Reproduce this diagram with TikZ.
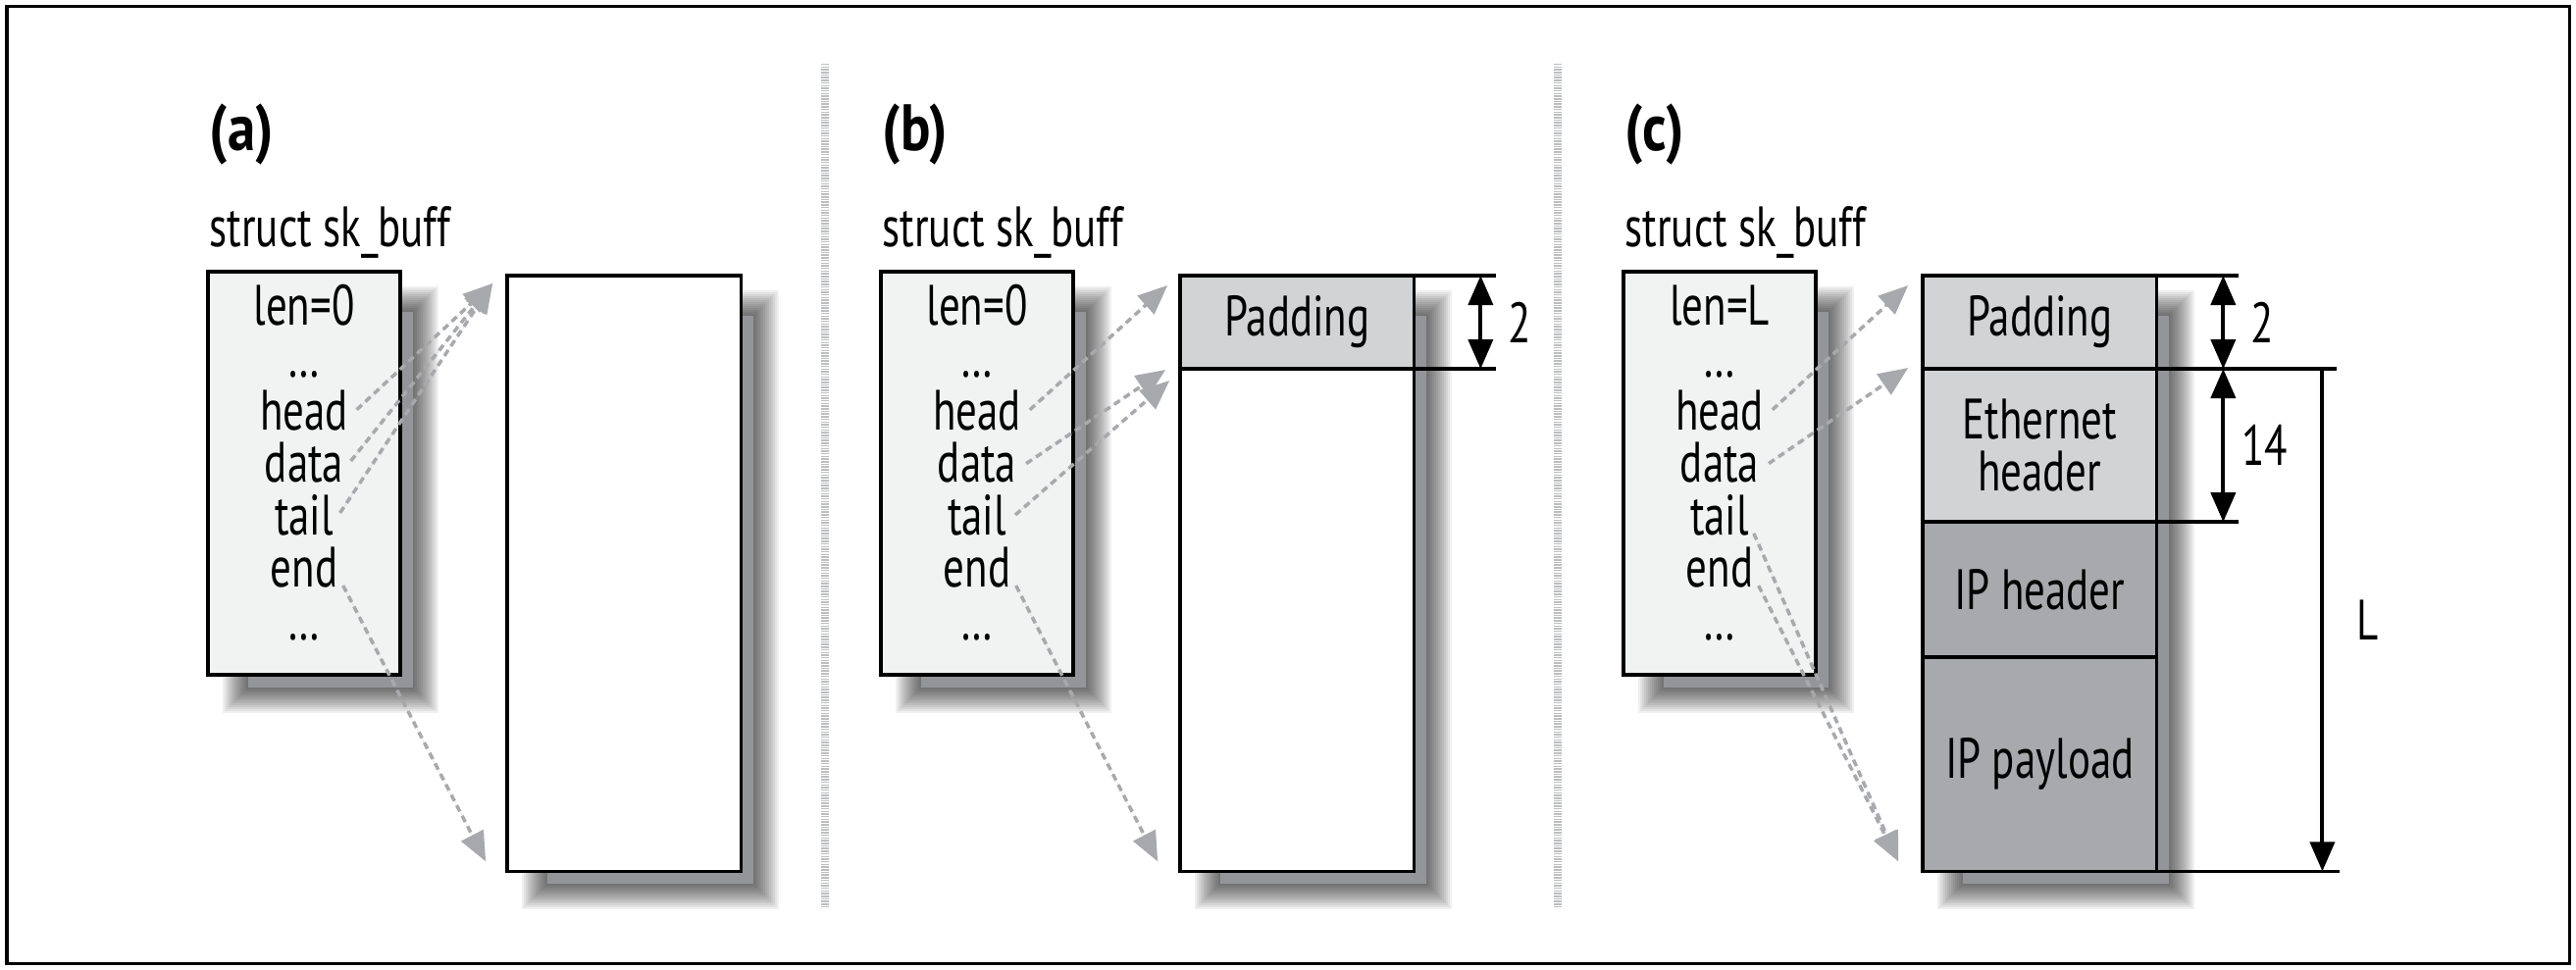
\documentclass[tikz,border=0pt]{standalone}
\usepackage{fontspec}
\setmainfont{PT Sans}[FakeStretch=0.74]
\newfontfamily\titlefamily{PT Sans}[FakeStretch=0.85]
\usetikzlibrary{arrows.meta,positioning,backgrounds}

\definecolor{structfill}{HTML}{F1F2F2}
\definecolor{padfill}{HTML}{D1D3D4}
\definecolor{ipfill}{HTML}{A7A9AC}
\definecolor{shadowcore}{HTML}{939598}
\definecolor{ptrgray}{HTML}{A7A9AC}
\definecolor{sepgray}{HTML}{BCBEC0}

\newcommand{\fieldfont}{\fontsize{16.5pt}{15.2pt}\selectfont}
\newcommand{\titlefont}{\titlefamily\bfseries\fontsize{19pt}{21pt}\selectfont}

% soft shadow under a box, given its north west and south east corners
\newcommand{\dropshadow}[2]{%
  \begin{pgfonlayer}{background}
    \foreach \r in {0,2,...,26}
      \fill[black,opacity=0.06]
        ([xshift=0.41cm-\r*0.01cm,yshift=-0.41cm+\r*0.01cm]#1) rectangle
        ([xshift=0.13cm+\r*0.01cm,yshift=-0.13cm-\r*0.01cm]#2);
    \fill[shadowcore] ([xshift=0.41cm,yshift=-0.41cm]#1) rectangle
                      ([xshift=0.13cm,yshift=-0.13cm]#2);
  \end{pgfonlayer}}

\tikzset{
    %Define standard arrow tip
    >={Triangle[length=0.3cm,width=0.25cm]},
    %Define style for the struct boxes
    structbox/.style={
           rectangle,
           draw=black, line width=0.035cm,
           fill=structfill,
           anchor=north west,
           minimum width=1.96cm,
           minimum height=4.11cm,
           inner sep=0pt, outer sep=0pt},
    % one line of the struct
    field/.style={
           font=\fieldfont,
           inner sep=0pt, outer sep=0pt,
           text height=0.39cm,
           text depth=0.145cm},
    % one part of the data buffer
    cell/.style={
           rectangle,
           draw=black, line width=0.035cm,
           minimum width=2.38cm,
           inner sep=0pt, outer sep=0pt,
           font=\fieldfont,
           align=center},
    title/.style={font=\titlefont, inner sep=0pt, anchor=base west},
    caption/.style={font=\fieldfont, inner sep=0pt, anchor=base west},
    % Define pointer style
    ptr/.style={
           ->,
           draw=ptrgray, fill=ptrgray,
           line width=0.035cm,
           dash pattern=on 0.07cm off 0.05cm,
           shorten <=0.12cm},
    dimline/.style={draw=black, line width=0.035cm},
    dimarr/.style={draw=black, line width=0.04cm},
    dimlabel/.style={font=\fieldfont, inner sep=0pt, anchor=west},
    sepline/.style={draw=sepgray, line width=0.08cm,
           dash pattern=on 0.015cm off 0.012cm}
}

\begin{document}
\begin{tikzpicture}[x=0.01cm,y=-0.01cm]
    \useasboundingbox (0,0) rectangle (2626,989);
    \draw[line width=0.03cm] (7,7) rectangle (2619,983);
    \draw[sepline] (841,65) -- (841,926);
    \draw[sepline] (1588,65) -- (1588,926);

    % (a)
    \node[title] (atitle) at (213,154) {(a)};
    \node[caption] (aname) at (213,252) {struct sk\_buff};
    \node[structbox] (astr) at (212,277) {};
    \node[field] (alen) [below=0.15cm of astr.north] {len=0};
    \node[field] (adot1) [below=0pt of alen] {…};
    \node[field] (ahead) [below=0pt of adot1] {head};
    \node[field] (adata) [below=0pt of ahead] {data};
    \node[field] (atail) [below=0pt of adata] {tail};
    \node[field] (aend) [below=0pt of atail] {end};
    \node[field] (adot2) [below=0pt of aend] {…};
    \node[cell, fill=white, minimum height=6.07cm] (abuf)
          [right=1.09cm of astr.north east, anchor=north west, yshift=-0.04cm] {};
    \dropshadow{astr.north west}{astr.south east}
    \dropshadow{abuf.north west}{abuf.south east}
    \coordinate (atop) at ([xshift=-0.15cm,yshift=-0.08cm]abuf.north west);
    \coordinate (abot) at ([xshift=-0.22cm,yshift=0.10cm]abuf.south west);
    \draw[ptr] (ahead.east) -- (atop);
    \draw[ptr] (adata.east) -- (atop);
    \draw[ptr] (atail.east) -- (atop);
    \draw[ptr] (aend.east) -- (abot);

    % (b)
    \node[title] (btitle) at (899,154) {(b)};
    \node[caption] (bname) at (899,252) {struct sk\_buff};
    \node[structbox] (bstr) at (898,277) {};
    \node[field] (blen) [below=0.15cm of bstr.north] {len=0};
    \node[field] (bdot1) [below=0pt of blen] {…};
    \node[field] (bhead) [below=0pt of bdot1] {head};
    \node[field] (bdata) [below=0pt of bhead] {data};
    \node[field] (btail) [below=0pt of bdata] {tail};
    \node[field] (bend) [below=0pt of btail] {end};
    \node[field] (bdot2) [below=0pt of bend] {…};
    \node[cell, fill=padfill, minimum height=0.95cm] (bpad)
          [right=1.09cm of bstr.north east, anchor=north west, yshift=-0.04cm] {Padding};
    \node[cell, fill=white, minimum height=5.12cm] (brest) [below=0pt of bpad] {};
    \dropshadow{bstr.north west}{bstr.south east}
    \dropshadow{bpad.north west}{brest.south east}
    \coordinate (btop) at ([xshift=-0.13cm,yshift=-0.10cm]bpad.north west);
    \coordinate (bmid1) at ([xshift=-0.15cm,yshift=-0.01cm]bpad.south west);
    \coordinate (bmid2) at ([xshift=-0.11cm,yshift=-0.12cm]bpad.south west);
    \coordinate (bbot) at ([xshift=-0.23cm,yshift=0.10cm]brest.south west);
    \draw[ptr] (bhead.east) -- (btop);
    \draw[ptr] (bdata.east) -- (bmid1);
    \draw[ptr] (btail.east) -- (bmid2);
    \draw[ptr] (bend.east) -- (bbot);
    \draw[dimline] (bpad.north east) -- ++(84,0);
    \draw[dimline] (bpad.south east) -- ++(84,0);
    \draw[dimarr,<->] ([xshift=0.68cm]bpad.north east) -- ([xshift=0.68cm]bpad.south east)
          node[dimlabel, midway, xshift=0.26cm] {2};

    % (c)
    \node[title] (ctitle) at (1656,154) {(c)};
    \node[caption] (cname) at (1656,252) {struct sk\_buff};
    \node[structbox] (cstr) at (1655,277) {};
    \node[field] (clen) [below=0.15cm of cstr.north] {len=L};
    \node[field] (cdot1) [below=0pt of clen] {…};
    \node[field] (chead) [below=0pt of cdot1] {head};
    \node[field] (cdata) [below=0pt of chead] {data};
    \node[field] (ctail) [below=0pt of cdata] {tail};
    \node[field] (cend) [below=0pt of ctail] {end};
    \node[field] (cdot2) [below=0pt of cend] {…};
    \node[cell, fill=padfill, minimum height=0.95cm] (cpad)
          [right=1.09cm of cstr.north east, anchor=north west, yshift=-0.04cm] {Padding};
    \node[cell, fill=padfill, minimum height=1.56cm] (ceth) [below=0pt of cpad] {Ethernet\\header};
    \node[cell, fill=ipfill, minimum height=1.38cm] (ciph) [below=0pt of ceth] {IP header};
    \node[cell, fill=ipfill, minimum height=2.18cm] (cipl) [below=0pt of ciph] {IP payload};
    \dropshadow{cstr.north west}{cstr.south east}
    \dropshadow{cpad.north west}{cipl.south east}
    \coordinate (ctop) at ([xshift=-0.15cm,yshift=-0.10cm]cpad.north west);
    \coordinate (cmid) at ([xshift=-0.15cm,yshift=0.01cm]ceth.north west);
    \coordinate (cbot) at ([xshift=-0.25cm,yshift=0.10cm]cipl.south west);
    \draw[ptr] (chead.east) -- (ctop);
    \draw[ptr] (cdata.east) -- (cmid);
    \draw[ptr] (ctail.east) -- (cbot);
    \draw[ptr] (cend.east) -- (cbot);
    \draw[dimline] (cpad.north east) -- ++(84,0);
    \draw[dimline] (cpad.south east) -- ++(184,0);
    \draw[dimline] (ceth.south east) -- ++(84,0);
    \draw[dimline] (cipl.south east) -- ++(187,0);
    \draw[dimarr,<->] ([xshift=0.68cm]cpad.north east) -- ([xshift=0.68cm]cpad.south east)
          node[dimlabel, midway, xshift=0.26cm] {2};
    \draw[dimarr,<->] ([xshift=0.68cm]ceth.north east) -- ([xshift=0.68cm]ceth.south east)
          node[dimlabel, midway, xshift=0.17cm] {14};
    \draw[dimarr,->] ([xshift=1.69cm]cpad.south east) -- ([xshift=1.69cm]cipl.south east)
          node[dimlabel, midway, xshift=0.33cm] {L};
\end{tikzpicture}
\end{document}
